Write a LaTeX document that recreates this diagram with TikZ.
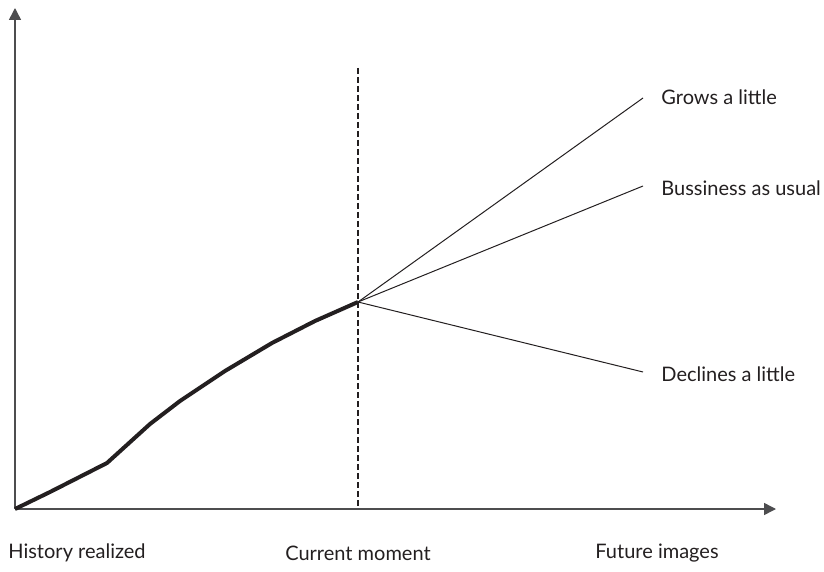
\documentclass[tikz,border=0pt]{standalone}
\usepackage{fontspec}
\setmainfont{Lato}
\usetikzlibrary{arrows.meta}
\definecolor{ink}{HTML}{231F20}
\definecolor{axisgray}{HTML}{4D4D4F}
\tikzstyle{caption} = [font=\fontsize{10}{12}\selectfont, text=ink, inner sep=0pt]
\tikzstyle{axis} = [draw=axisgray, line width=0.75pt, -{Triangle[length=6pt,width=6pt]}]
\tikzstyle{history} = [draw=ink, line width=2pt, line join=round]
\tikzstyle{future} = [draw=ink, line width=0.5pt]
\tikzstyle{now} = [draw=ink, line width=1pt, dash pattern=on 3pt off 1.5pt]

\begin{document}
\begin{tikzpicture}[x=0.5pt, y=-0.5pt]
\useasboundingbox (0,0) rectangle (824,572);

%% POINTS
\coordinate (origin) at (15,509);
\coordinate (ytip) at (15,8);
\coordinate (xtip) at (776,509);
\coordinate (nowtop) at (358,68);
\coordinate (nowbot) at (358,509);
\coordinate (now) at (358,302);
\coordinate (grow) at (643,98);
\coordinate (usual) at (643,186);
\coordinate (decline) at (643,372);

%% NODES
\node (hist) [caption, anchor=west] at (8,553) {History realized};
\node (curr) [caption] at (358,553) {Current moment};
\node (fut) [caption] at (657,553) {Future images};
\node (growlbl) [caption, anchor=west] at (661,97) {Grows a little};
\node (usuallbl) [caption, anchor=west] at (661,188) {Bussiness as usual};
\node (declinelbl) [caption, anchor=west] at (661,374) {Declines a little};

%% LINES
\draw [axis] (origin) -- (ytip);
\draw [axis] (origin) -- (xtip);
\draw [now] (nowtop) -- (nowbot);
\draw [history] (origin) -- (50,492) -- (107,463) -- (150,424) -- (180,401)
  -- (225,371) -- (272,343) -- (315,321) -- (now);
\draw [future] (now) -- (grow);
\draw [future] (now) -- (usual);
\draw [future] (now) -- (decline);
\end{tikzpicture}
\end{document}
